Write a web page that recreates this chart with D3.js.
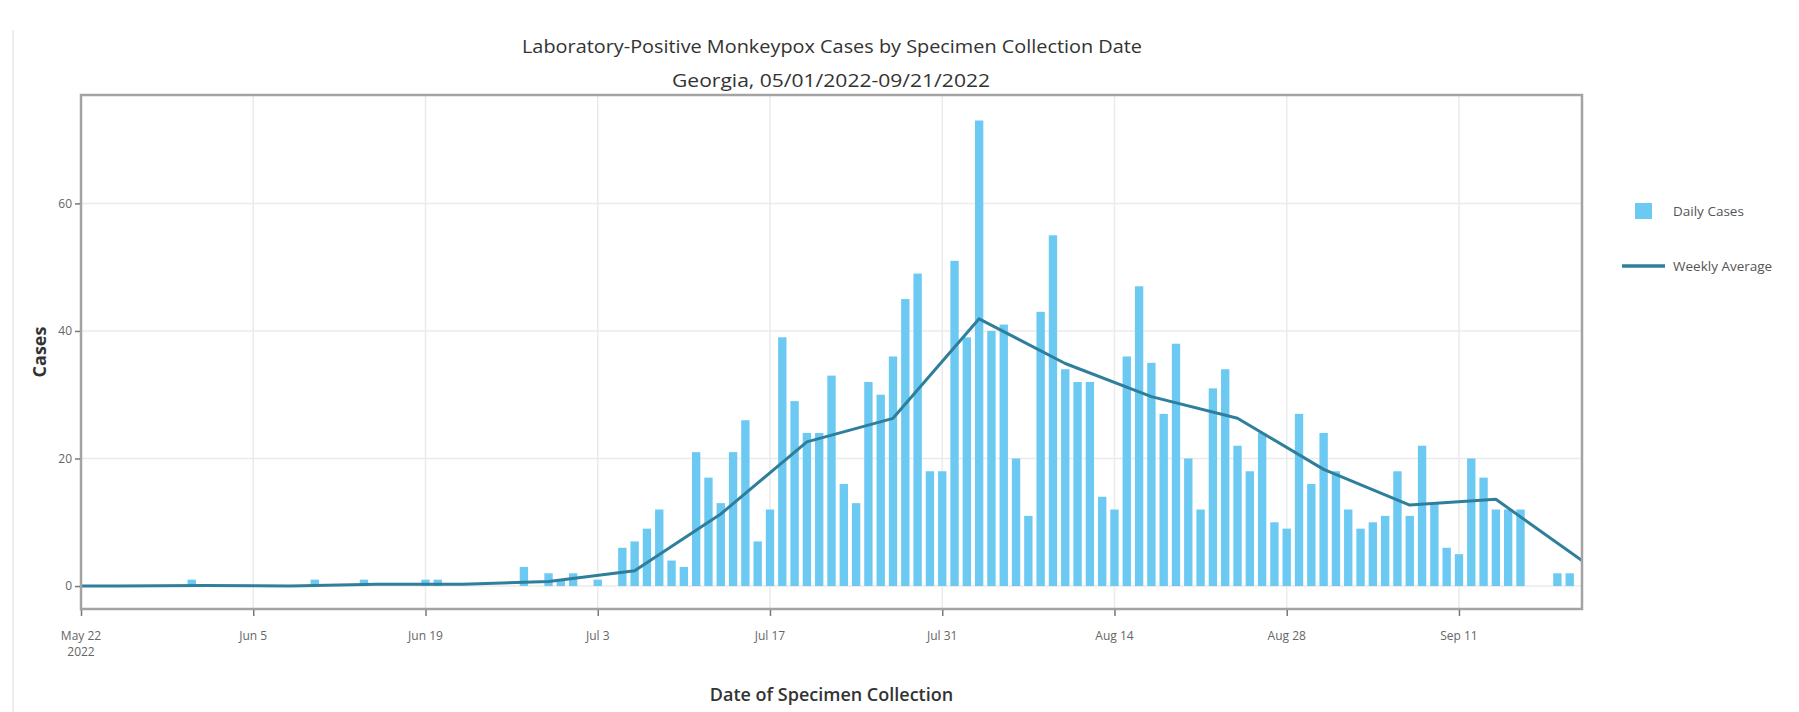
<!DOCTYPE html>
<html><head><meta charset="utf-8">
<script src="https://cdn.jsdelivr.net/npm/d3@7"></script>
<style>html,body{margin:0;padding:0;background:#fff;}svg{display:block;font-family:"Open Sans","Noto Sans",sans-serif;}</style>
</head><body>
<svg id="c" width="1799" height="712"></svg>
<script>
// ---- data ----
const startDate = "2022-05-22"; // first day of the daily series
const dailyCases = [
  0,0,0,0,0,0,0,0,0,1,            // May 22 - May 31
  0,0,0,0,0,0,0,0,0,1,            // Jun 1 - Jun 10
  0,0,0,1,0,0,0,0,1,1,            // Jun 11 - Jun 20
  0,0,0,0,0,0,3,0,2,1,            // Jun 21 - Jun 30
  2,0,1,0,6,7,9,12,4,3,           // Jul 1 - Jul 10
  21,17,13,21,26,7,12,39,29,24,   // Jul 11 - Jul 20
  24,33,16,13,32,30,36,45,49,18,  // Jul 21 - Jul 30
  18,51,39,73,40,41,20,11,43,55,  // Jul 31 - Aug 9
  34,32,32,14,12,36,47,35,27,38,  // Aug 10 - Aug 19
  20,12,31,34,22,18,24,10,9,27,   // Aug 20 - Aug 29
  16,24,18,12,9,10,11,18,11,22,   // Aug 30 - Sep 8
  13,6,5,20,17,12,12,12,0,0,      // Sep 9 - Sep 18
  2,2,0                           // Sep 19 - Sep 21
];
const weekDates = ["2022-05-18","2022-05-25","2022-06-01","2022-06-08","2022-06-15","2022-06-22","2022-06-29",
  "2022-07-06","2022-07-13","2022-07-20","2022-07-27","2022-08-03","2022-08-10","2022-08-17","2022-08-24",
  "2022-08-31","2022-09-07","2022-09-14","2022-09-21"];
const weeklyAverage = [0,0,0.1,0,0.3,0.3,0.7,2.4,11.3,22.6,26.3,41.9,34.9,29.7,26.3,18.3,12.7,13.6,4.0];
const xTickDates = ["2022-05-22","2022-06-05","2022-06-19","2022-07-03","2022-07-17","2022-07-31","2022-08-14","2022-08-28","2022-09-11"];
const xTickLabels = ["May 22\n2022","Jun 5","Jun 19","Jul 3","Jul 17","Jul 31","Aug 14","Aug 28","Sep 11"];
const yTicks = [0,20,40,60];
const xDomain = ["2022-05-22","2022-09-21"];
const yDomain = [-3.6, 77];
const titleLines = ["Laboratory-Positive Monkeypox Cases by Specimen Collection Date","Georgia, 05/01/2022-09/21/2022"];
const legendLabels = ["Daily Cases","Weekly Average"];

// ---- layout ----
const P = {l:81, r:1582, t:95, b:609};
const barColor = "#6ccaf2", lineColor = "#2f7f9c";
const parse = d3.utcParse("%Y-%m-%d");
const svg = d3.select("#c");

const x = d3.scaleUtc().domain(xDomain.map(parse)).range([P.l, P.r]);
const y = d3.scaleLinear().domain(yDomain).range([P.b, P.t]);

const start = parse(startDate);
const bars = dailyCases.map((v,i)=>({date:d3.utcDay.offset(start,i), v}));
const dayW = x(d3.utcDay.offset(start,1)) - x(start);
const bw = dayW*0.68;

// faint page border line at left
svg.append("line").attr("x1",13).attr("x2",13).attr("y1",30).attr("y2",712).attr("stroke","#eeeeee").attr("stroke-width",2);

// gridlines
const grid = svg.append("g");
grid.selectAll("line.v").data(xTickDates.map(parse)).enter().append("line")
  .attr("x1",d=>x(d)).attr("x2",d=>x(d)).attr("y1",P.t).attr("y2",P.b)
  .attr("stroke","#ebebeb").attr("stroke-width",1.5);
grid.selectAll("line.h").data(yTicks).enter().append("line")
  .attr("x1",P.l).attr("x2",P.r).attr("y1",d=>y(d)).attr("y2",d=>y(d))
  .attr("stroke","#ebebeb").attr("stroke-width",1.5);

// clip
svg.append("clipPath").attr("id","pc").append("rect")
  .attr("x",P.l).attr("y",P.t).attr("width",P.r-P.l).attr("height",P.b-P.t);

// bars
svg.append("g").attr("clip-path","url(#pc)").selectAll("rect").data(bars.filter(d=>d.v>0)).enter().append("rect")
  .attr("x",d=>x(d.date)-bw/2).attr("width",bw)
  .attr("y",d=>y(d.v)).attr("height",d=>y(0)-y(d.v))
  .attr("fill",barColor);

// weekly line
const line = d3.line().x(d=>x(d.date)).y(d=>y(d.v));
svg.append("path").attr("clip-path","url(#pc)")
  .datum(weekDates.map((d,i)=>({date:parse(d), v:weeklyAverage[i]})))
  .attr("d",line).attr("fill","none").attr("stroke",lineColor).attr("stroke-width",3).attr("stroke-linejoin","round");

// frame
svg.append("rect").attr("x",P.l).attr("y",P.t).attr("width",P.r-P.l).attr("height",P.b-P.t)
  .attr("fill","none").attr("stroke","#a3a3a3").attr("stroke-width",2.5);

// y axis ticks
const yAx = svg.append("g").attr("transform",`translate(${P.l-1},0)`)
  .call(d3.axisLeft(y).tickValues(yTicks).tickSize(5).tickPadding(3).tickFormat(d3.format("d")));
yAx.select(".domain").remove();
yAx.selectAll("line").attr("stroke","#777").attr("stroke-width",1.5);
yAx.selectAll("text").attr("fill","#666").attr("font-size","12px").attr("font-family","Open Sans, sans-serif");

// x axis ticks
const xAx = svg.append("g").attr("transform",`translate(0,${P.b+1})`)
  .call(d3.axisBottom(x).tickValues(xTickDates.map(parse)).tickSize(6).tickFormat(""));
xAx.select(".domain").remove();
xAx.selectAll("line").attr("stroke","#777").attr("stroke-width",1.5);
const xl = svg.append("g");
xTickDates.forEach((d,i)=>{
  const t = xl.append("text").attr("x",x(parse(d))).attr("y",640).attr("text-anchor","middle")
    .attr("fill","#666").attr("font-size","12px");
  xTickLabels[i].split("\n").forEach((s,j)=>t.append("tspan").attr("x",x(parse(d))).attr("dy",j?16:0).text(s));
});

// axis titles
svg.append("text").attr("x",(P.l+P.r)/2).attr("y",701).attr("text-anchor","middle")
  .attr("fill","#333").attr("font-size","18px").attr("font-weight","600").text("Date of Specimen Collection");
svg.append("text").attr("transform",`translate(46,${(P.t+P.b)/2}) rotate(-90)`).attr("text-anchor","middle")
  .attr("fill","#333").attr("font-size","18px").attr("font-weight","700").text("Cases");

// title
svg.append("text").attr("x",832).attr("y",53).attr("text-anchor","middle").attr("fill","#333")
  .attr("font-size","18px").attr("textLength",620).attr("lengthAdjust","spacingAndGlyphs").text(titleLines[0]);
svg.append("text").attr("x",831).attr("y",87).attr("text-anchor","middle").attr("fill","#333")
  .attr("font-size","18px").attr("textLength",318).attr("lengthAdjust","spacingAndGlyphs").text(titleLines[1]);

// legend
const lg = svg.append("g");
lg.append("rect").attr("x",1635).attr("y",203).attr("width",17).attr("height",16).attr("fill",barColor);
lg.append("text").attr("x",1673).attr("y",216).attr("fill","#555").attr("font-size","13.5px").text(legendLabels[0]);
lg.append("line").attr("x1",1622).attr("x2",1665).attr("y1",266).attr("y2",266).attr("stroke",lineColor).attr("stroke-width",3.5);
lg.append("text").attr("x",1673).attr("y",271).attr("fill","#555").attr("font-size","13.5px").text(legendLabels[1]);
</script>
</body></html>
